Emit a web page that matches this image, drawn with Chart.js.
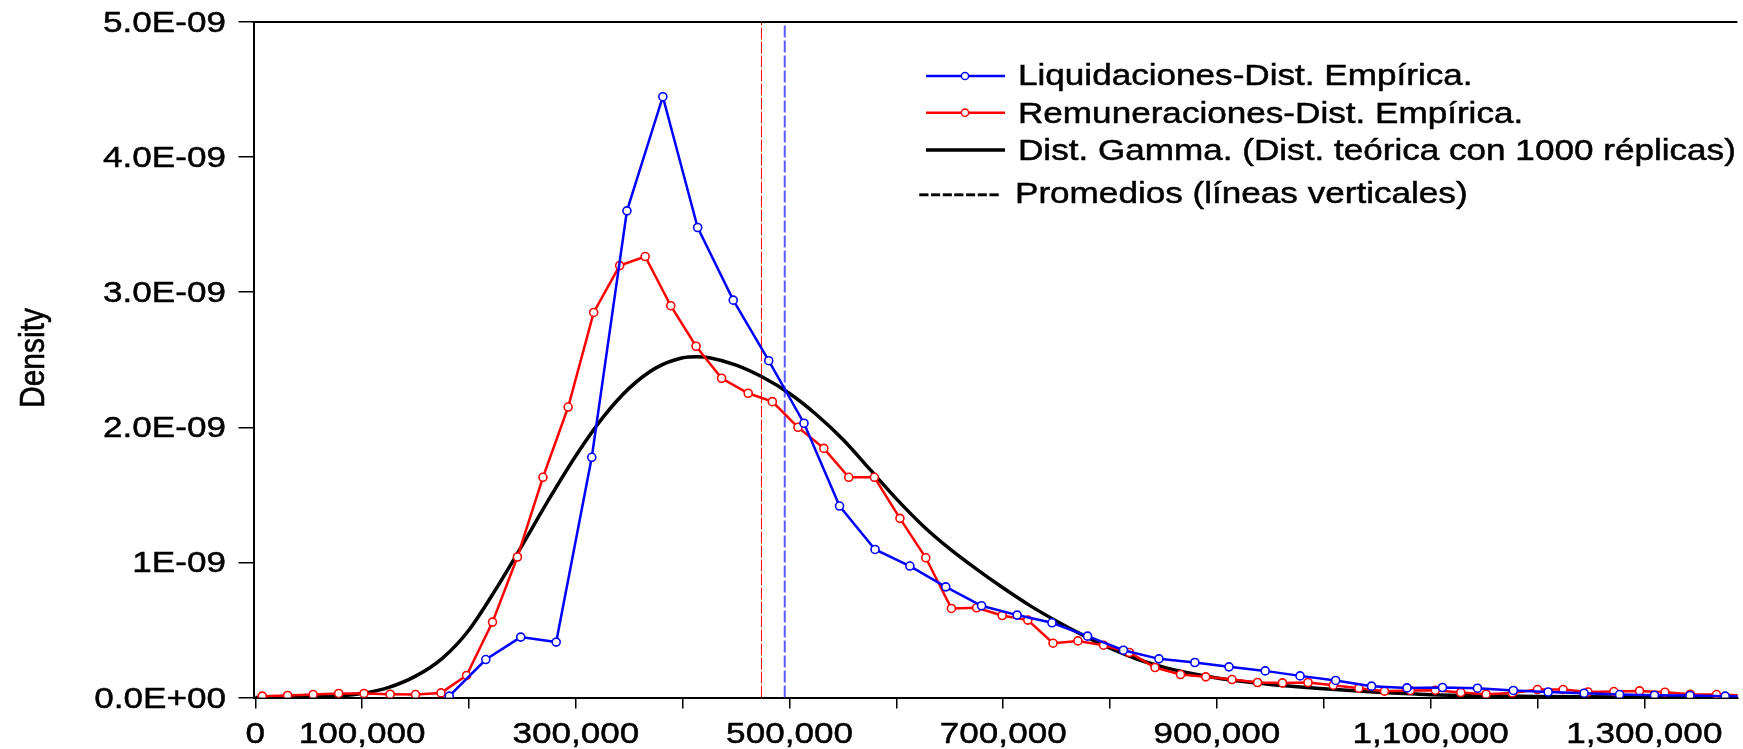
<!DOCTYPE html>
<html><head><meta charset="utf-8">
<script src="https://cdn.jsdelivr.net/npm/chart.js@4.4.1/dist/chart.umd.min.js"></script>
<style>html,body{margin:0;padding:0;background:#fff;overflow:hidden}#wrap{width:1743px;height:749px;position:relative}</style>
</head><body><div id="wrap"><canvas id="c"></canvas></div>
<script>
// Density values are in units of 1E-09
const blueX=[181500,215700,248400,281600,314900,347800,381400,414000,447300,480500,513500,546800,580000,612600,646200,679700,713000,745600,778900,812500,845700,879300,911300,945200,977800,1011100,1044700,1077900,1111100,1143800,1177400,1210000,1243600,1276800,1309500,1342700,1375700,1408900];
const blueY=[0.01,0.281,0.447,0.41,1.778,3.602,4.447,3.479,2.941,2.493,2.03,1.417,1.096,0.973,0.819,0.679,0.610,0.553,0.454,0.350,0.286,0.259,0.227,0.197,0.160,0.126,0.084,0.071,0.074,0.069,0.052,0.041,0.032,0.022,0.017,0.015,0.01,0.008];
const redX=[6500,30200,54100,78000,101700,126200,149900,173800,197700,222000,245300,269200,292800,316700,341000,364900,388800,412500,436400,461300,483900,507900,532100,555400,579400,603300,627500,651500,675100,699000,723000,746600,769900,793900,818100,842000,865900,889500,914100,938000,961300,985200,1008900,1032800,1056800,1081000,1104400,1128200,1151900,1176400,1200000,1224000,1247300,1271500,1295500,1319300,1343000,1367500,1391400];
const redY=[0.01,0.015,0.022,0.03,0.03,0.024,0.022,0.034,0.163,0.558,1.04,1.63,2.15,2.85,3.197,3.264,2.90,2.60,2.363,2.252,2.19,2.0,1.844,1.63,1.63,1.326,1.034,0.659,0.664,0.607,0.573,0.402,0.419,0.387,0.333,0.222,0.170,0.153,0.133,0.111,0.108,0.111,0.091,0.069,0.047,0.052,0.054,0.037,0.024,0.034,0.059,0.059,0.041,0.044,0.049,0.039,0.024,0.022,0.015];
const gammaX=[0,50000,75000,100000,125000,150000,175000,200000,225000,250000,275000,300000,325000,350000,375000,400000,413000,425000,450000,475000,500000,525000,550000,575000,600000,625000,650000,675000,700000,725000,750000,775000,800000,825000,850000,875000,900000,925000,950000,975000,1000000,1025000,1050000,1075000,1100000,1150000,1200000,1300000,1390000];
const gammaY=[0.0,0.003,0.012,0.03,0.075,0.158,0.29,0.50,0.80,1.13,1.47,1.79,2.07,2.29,2.44,2.515,2.523,2.515,2.46,2.37,2.25,2.095,1.91,1.69,1.47,1.27,1.10,0.95,0.81,0.68,0.565,0.46,0.365,0.285,0.225,0.18,0.145,0.118,0.097,0.08,0.065,0.051,0.039,0.029,0.021,0.013,0.008,0.004,0.002];
const meanRem=473700, meanLiq=495500;
const xTickValues=[0,100000,200000,300000,400000,500000,600000,700000,800000,900000,1000000,1100000,1200000,1300000];
const xTickLabels=["0","100,000","","300,000","","500,000","","700,000","","900,000","","1,100,000","","1,300,000"];
const yTickValues=[0,1,2,3,4,5];
const yTickLabels=["0.0E+00","1E-09","2.0E-09","3.0E-09","4.0E-09","5.0E-09"];
const yTitle="Density";
const legendLabels=["Liquidaciones-Dist. Empírica.","Remuneraciones-Dist. Empírica.","Dist. Gamma. (Dist. teórica con 1000 réplicas)","Promedios (líneas verticales)"];
const E=1e-9;

const SX=1.17, FONT='30px "Liberation Sans", Arial, sans-serif';
function sText(ctx,t,x,y,align){ctx.save();ctx.translate(x,y);ctx.scale(SX,1);ctx.textAlign=align;ctx.textBaseline='alphabetic';ctx.lineWidth=0.5;ctx.strokeStyle=ctx.fillStyle;ctx.fillText(t,0,0);ctx.strokeText(t,0,0);ctx.restore();}
const textPlugin={id:'txt',afterDraw(chart){
  const ctx=chart.ctx, xs=chart.scales.x, ys=chart.scales.y, a=chart.chartArea;
  ctx.save();
  ctx.strokeStyle='#000'; ctx.lineWidth=2;
  ctx.beginPath(); ctx.moveTo(a.left-1,a.top); ctx.lineTo(a.right,a.top); ctx.stroke();
  ctx.fillStyle='#000'; ctx.font=FONT;
  yTickValues.forEach((v,i)=>sText(ctx,yTickLabels[i],226,ys.getPixelForValue(v*E)+10,'right'));
  xTickValues.forEach((v,i)=>{if(xTickLabels[i]) sText(ctx,xTickLabels[i],xs.getPixelForValue(v),743,'center');});
  ctx.save(); ctx.translate(44,358); ctx.scale(SX,1); ctx.rotate(-Math.PI/2); ctx.textAlign='center'; ctx.textBaseline='alphabetic'; ctx.lineWidth=0.5; ctx.strokeStyle='#000'; ctx.fillText(yTitle,0,0); ctx.strokeText(yTitle,0,0); ctx.restore();
  // legend
  const rows=[{c:'#0000ff',y:76,w:2.5,m:true,ty:85},{c:'#ff0000',y:112.7,w:2.5,m:true,ty:122.7},{c:'#000',y:150,w:3.5,m:false,ty:160}];
  rows.forEach((r,i)=>{
    ctx.strokeStyle=r.c; ctx.lineWidth=r.w; ctx.beginPath(); ctx.moveTo(926,r.y); ctx.lineTo(1005,r.y); ctx.stroke();
    if(r.m){ctx.fillStyle='#fff'; ctx.lineWidth=1.5; ctx.beginPath(); ctx.arc(965,r.y,3.6,0,Math.PI*2); ctx.fill(); ctx.stroke();}
    ctx.fillStyle='#000'; sText(ctx,legendLabels[i],1018,r.ty,'left');
  });
  ctx.fillStyle='#000';
  sText(ctx,'-------',918,203.3,'left');
  sText(ctx,legendLabels[3],1015,203.3,'left');
  ctx.restore();
}};

const pts=(xs,ys)=>xs.map((x,i)=>({x:x,y:ys[i]*E}));
new Chart(document.getElementById('c'),{
  type:'line',
  data:{datasets:[
    {label:legendLabels[0],data:pts(blueX,blueY),borderColor:'#0000ff',borderWidth:2.5,pointRadius:4,pointBorderWidth:1.6,pointBackgroundColor:'#fff',pointBorderColor:'#0000ff',tension:0},
    {label:legendLabels[1],data:pts(redX,redY),borderColor:'#ff0000',borderWidth:2.5,pointRadius:4,pointBorderWidth:1.6,pointBackgroundColor:'#fff',pointBorderColor:'#ff0000',tension:0},
    {label:legendLabels[2],data:pts(gammaX,gammaY),borderColor:'#000',borderWidth:3.5,pointRadius:0,cubicInterpolationMode:'monotone'},
    {label:'mean rem',data:[{x:meanRem,y:0},{x:meanRem,y:5*E}],borderColor:'#ff0000',borderWidth:1,borderDash:[12,2],pointRadius:0},
    {label:'mean liq',data:[{x:meanLiq,y:0},{x:meanLiq,y:5*E}],borderColor:'#5a5aff',borderWidth:2,borderDash:[12,3],pointRadius:0}
  ]},
  options:{
    responsive:true,maintainAspectRatio:false,animation:false,devicePixelRatio:1,
    layout:{padding:{top:22,left:0,right:0,bottom:0}},
    plugins:{legend:{display:false},tooltip:{enabled:false}},
    scales:{
      x:{type:'linear',min:-1700,max:1387100,
        afterBuildTicks(s){s.ticks=xTickValues.map(v=>({value:v}));},
        afterFit(s){s.height=51.5;},
        ticks:{display:false},
        grid:{drawOnChartArea:false,drawTicks:true,tickLength:11,color:'#000',lineWidth:1.5},
        border:{display:true,color:'#000',width:2}},
      y:{type:'linear',min:0,max:5*E,
        afterBuildTicks(s){s.ticks=yTickValues.map(v=>({value:v*E}));},
        afterFit(s){s.width=253.5;},
        ticks:{display:false},
        grid:{drawOnChartArea:false,drawTicks:true,tickLength:15,color:'#000',lineWidth:1.5},
        border:{display:true,color:'#000',width:2}}
    }
  },
  plugins:[textPlugin]
});
</script></body></html>
